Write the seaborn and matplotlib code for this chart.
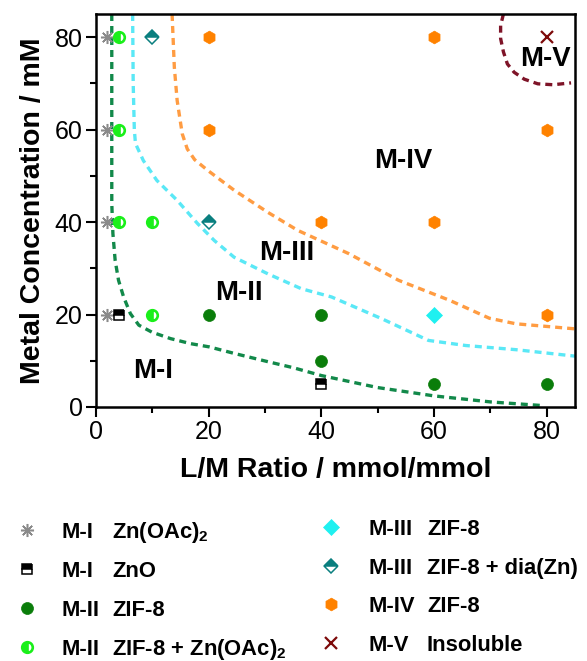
import matplotlib
matplotlib.use("Agg")
import matplotlib.pyplot as plt
from matplotlib.lines import Line2D
from matplotlib.ticker import MultipleLocator
import seaborn as sns

# ---------------- data ----------------
# synthesis outcomes: (L/M ratio, metal concentration in mM)
mi_znoac_x = [2, 2, 2, 2]
mi_znoac_y = [20, 40, 60, 80]
mi_zno_x = [4, 40]
mi_zno_y = [20, 5]
mii_zif_x = [20, 40, 40, 60, 80]
mii_zif_y = [20, 20, 10, 5, 5]
mii_mix_x = [4, 4, 4, 10, 10]
mii_mix_y = [80, 60, 40, 40, 20]
miii_zif_x = [60]
miii_zif_y = [20]
miii_dia_x = [10, 20]
miii_dia_y = [80, 40]
miv_zif_x = [20, 20, 60, 80, 40, 60, 80]
miv_zif_y = [80, 60, 80, 60, 40, 40, 20]
mv_x = [80]
mv_y = [80]

# phase boundaries (hand-drawn guide lines)
b1_x = [2.8, 2.8, 3.0, 3.4, 4.0, 4.9, 6.1, 7.6, 9.9, 13.2, 16.8, 20.1, 24.5, 30.5, 35, 40, 50, 60, 70, 79.3]
b1_y = [85, 44, 37.5, 31.7, 27.4, 23.8, 20.2, 17.7, 16.2, 14.8, 13.7, 13.0, 11.6, 9.8, 8.5, 6.8, 4.2, 2.4, 1.1, 0.3]
b2_x = [6.5, 6.6, 6.8, 7.0, 8.4, 10.8, 14.4, 18.0, 21.0, 24.5, 30.5, 36.4, 41.8, 50.7, 59.0, 65.6, 74.5, 85]
b2_y = [85, 70, 60, 57, 53.3, 49, 44.7, 39.7, 36.0, 32.4, 28.8, 25.6, 23.8, 19.1, 14.4, 13.3, 12.4, 11.0]
b3_x = [13.5, 13.9, 14.4, 15.3, 16.2, 17.5, 19.8, 24.5, 30.5, 35.8, 44.8, 53.7, 62.7, 69.8, 74.5, 85]
b3_y = [85, 73.5, 66.3, 59.1, 55.8, 53.5, 51.2, 46.9, 42.1, 38.2, 33.2, 27.4, 23.1, 19.2, 18.0, 16.9]
b4_x = [72.3, 71.8, 71.8, 72.3, 73.0, 74.2, 76.0, 78.4, 81.1, 84.3]
b4_y = [85, 82.5, 79.7, 76.8, 74.2, 72.4, 70.9, 69.9, 69.7, 70.1]

region_labels = ["M-I", "M-II", "M-III", "M-IV", "M-V"]
region_x = [10.2, 25.3, 33.9, 54.6, 79.8]
region_y = [7.8, 24.7, 33.3, 53.3, 75.3]

x_ticks = [0, 20, 40, 60, 80]
y_ticks = [0, 20, 40, 60, 80]

legend_left_phase = ["M-I", "M-I", "M-II", "M-II"]
legend_left_product = ["Zn(OAc)$_\\mathbf{2}$", "ZnO", "ZIF-8", "ZIF-8 + Zn(OAc)$_\\mathbf{2}$"]
legend_right_phase = ["M-III", "M-III", "M-IV", "M-V"]
legend_right_product = ["ZIF-8", "ZIF-8 + dia(Zn)", "ZIF-8", "Insoluble"]

# ---------------- styles ----------------
sns.set_theme(style="ticks")
plt.rcParams["font.family"] = ["Liberation Sans", "DejaVu Sans"]
plt.rcParams["mathtext.fontset"] = "custom"
plt.rcParams["mathtext.rm"] = "Liberation Sans"
plt.rcParams["mathtext.bf"] = "Liberation Sans:bold"
for key in ["text.color", "axes.labelcolor", "xtick.color", "ytick.color", "axes.edgecolor"]:
    plt.rcParams[key] = "black"

st_znoac = dict(marker=(8, 2, 0), markersize=9.4, color="#8a8a8a",
                markeredgecolor="#8a8a8a", markeredgewidth=1.1)
st_zno = dict(marker="s", markersize=7.6, color="black", fillstyle="top",
              markerfacecolor="black", markerfacecoloralt="white",
              markeredgecolor="black", markeredgewidth=1.1)
st_mii = dict(marker="o", markersize=8.6, color="#0a7d0a",
              markerfacecolor="#0a7d0a", markeredgecolor="#0a7d0a", markeredgewidth=0.5)
st_mix = dict(marker="o", markersize=7.6, color="#1aef1a", fillstyle="left",
              markerfacecolor="#1aef1a", markerfacecoloralt="white",
              markeredgecolor="#1aef1a", markeredgewidth=1.9)
st_miii = dict(marker="D", markersize=8.4, color="#1ff0f0",
               markerfacecolor="#1ff0f0", markeredgecolor="#1ff0f0", markeredgewidth=0.5)
st_dia = dict(marker="D", markersize=7.2, color="#0a7f7f", fillstyle="top",
              markerfacecolor="#0a7f7f", markerfacecoloralt="white",
              markeredgecolor="#0a7f7f", markeredgewidth=1.1)
st_miv = dict(marker="h", markersize=9.2, color="#ff8200",
              markerfacecolor="#ff8200", markeredgecolor="#ff8200", markeredgewidth=0.5)
st_mv = dict(marker="x", markersize=8.8, color="#7d0a0a",
             markeredgecolor="#7d0a0a", markeredgewidth=1.6)

boundary_colors = ["#12894a", "#5ae8f6", "#ff9c42", "#7e1428"]
dash = (0, (2.1, 1.5))

# ---------------- figure ----------------
W, H = 587, 661
fig = plt.figure(figsize=(W / 100, H / 100), dpi=100)
ax = fig.add_axes([96 / W, 1 - 407 / H, (575 - 96) / W, (407 - 14) / H])

for bx, by, col in zip([b1_x, b2_x, b3_x, b4_x], [b1_y, b2_y, b3_y, b4_y], boundary_colors):
    sns.lineplot(x=bx, y=by, ax=ax, sort=False, estimator=None, color=col,
                 linewidth=2.4, linestyle=dash, legend=False, zorder=2)

series = [
    (mi_znoac_x, mi_znoac_y, st_znoac),
    (mi_zno_x, mi_zno_y, st_zno),
    (mii_zif_x, mii_zif_y, st_mii),
    (mii_mix_x, mii_mix_y, st_mix),
    (miii_zif_x, miii_zif_y, st_miii),
    (miii_dia_x, miii_dia_y, st_dia),
    (miv_zif_x, miv_zif_y, st_miv),
    (mv_x, mv_y, st_mv),
]
for sx, sy, st in series:
    sns.lineplot(x=sx, y=sy, ax=ax, sort=False, estimator=None, linestyle="none",
                 legend=False, zorder=3, **st)

for lab, lx, ly in zip(region_labels, region_x, region_y):
    ax.text(lx, ly, lab, ha="center", va="center", fontsize=19.8,
            fontweight="bold", color="black", zorder=4)

ax.set_xlim(0, 85)
ax.set_ylim(0, 85)
ax.set_xticks(x_ticks)
ax.set_yticks(y_ticks)
ax.set_xticklabels([str(t) for t in x_ticks])
ax.set_yticklabels([str(t) for t in y_ticks])
ax.xaxis.set_minor_locator(MultipleLocator(10))
ax.yaxis.set_minor_locator(MultipleLocator(10))
ax.tick_params(axis="both", which="major", direction="out", length=7.2, width=1.5,
               labelsize=18, pad=2.5, colors="black")
ax.tick_params(axis="both", which="minor", direction="out", length=4.3, width=1.5,
               colors="black")
for sp in ax.spines.values():
    sp.set_linewidth(1.8)
    sp.set_color("black")
    sp.set_visible(True)

ax.set_xlabel("L/M Ratio / mmol/mmol", fontsize=20.5, fontweight="bold", labelpad=9)
ax.set_ylabel("Metal Concentration / mM", fontsize=20.5, fontweight="bold", labelpad=6)

# ---------------- legend ----------------
def handle(st):
    return Line2D([], [], linestyle="none", **st)

left_handles = [handle(st_znoac), handle(st_zno), handle(st_mii), handle(st_mix)]
right_handles = [handle(st_miii), handle(st_dia), handle(st_miv), handle(st_mv)]

leg_font = dict(size=15.8, weight="bold")
leg_l = fig.legend(left_handles, legend_left_phase, loc="upper left",
                   bbox_to_anchor=(16 / W, 1 - 522 / H), frameon=False, prop=leg_font,
                   handlelength=1.0, handletextpad=1.09, labelspacing=0.82,
                   borderpad=0, borderaxespad=0, labelcolor="black")
leg_r = fig.legend(right_handles, legend_right_phase, loc="upper left",
                   bbox_to_anchor=(319.7 / W, 1 - 519 / H), frameon=False, prop=leg_font,
                   handlelength=1.0, handletextpad=1.24, labelspacing=0.8,
                   borderpad=0, borderaxespad=0, labelcolor="black")

fig.canvas.draw()
for leg, products, px in [(leg_l, legend_left_product, 112), (leg_r, legend_right_product, 427)]:
    for t, prod in zip(leg.get_texts(), products):
        _, yb = t.get_transform().transform(t.get_position())
        fig.text(px / W, yb / fig.bbox.height, prod, ha="left", va="baseline",
                 fontsize=15.8, fontweight="bold", color="black")

fig.savefig("out.png", dpi=100)
